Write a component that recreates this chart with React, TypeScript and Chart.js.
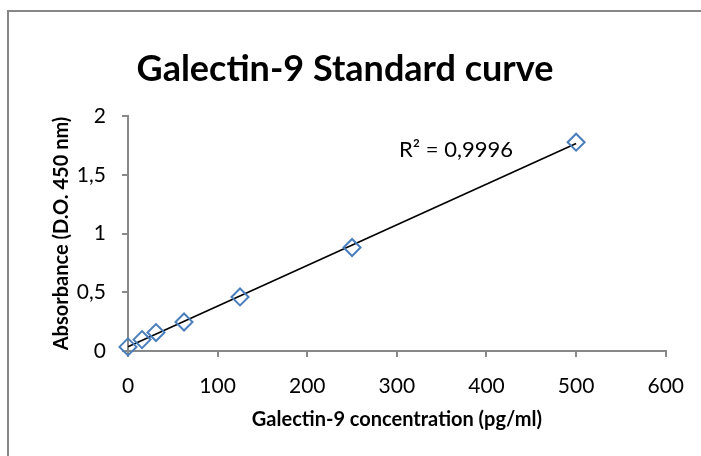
import React, { useEffect, useRef } from "react";
import { Chart, registerables } from "chart.js";

Chart.register(...registerables);

// ---- data ----
const concentrations = [0, 15.625, 31.25, 62.5, 125, 250, 500];
const absorbances = [0.035, 0.097, 0.157, 0.247, 0.46, 0.881, 1.777];
const titleText = "Galectin-9 Standard curve";
const xAxisTitle = "Galectin-9 concentration (pg/ml)";
const yAxisTitle = "Absorbance (D.O. 450 nm)";
const r2Label = "R\u00B2 = 0,9996";
const xTicks = [0, 100, 200, 300, 400, 500, 600];
const yTicks = [0, 0.5, 1, 1.5, 2];

// label anchor (in data units)
const R2_AT_X = 366;
const R2_AT_Y = 1.71;

const FONT = "Lato, 'Open Sans', sans-serif";
const GRAY = "#898989";

function linearFit(xs: number[], ys: number[]) {
  const n = xs.length;
  const mx = xs.reduce((a, b) => a + b, 0) / n;
  const my = ys.reduce((a, b) => a + b, 0) / n;
  let sxy = 0, sxx = 0;
  for (let i = 0; i < n; i++) {
    sxy += (xs[i] - mx) * (ys[i] - my);
    sxx += (xs[i] - mx) * (xs[i] - mx);
  }
  const slope = sxy / sxx;
  return { slope, intercept: my - slope * mx };
}

const decorPlugin = {
  id: "decor",
  beforeDraw(chart: any) {
    const ctx = chart.ctx;
    ctx.save();
    ctx.fillStyle = "#ffffff";
    ctx.fillRect(0, 0, chart.width, chart.height);
    ctx.strokeStyle = "#878787";
    ctx.lineWidth = 2;
    ctx.strokeRect(8, 11, chart.width + 50, chart.height + 50);
    ctx.restore();
  },
  afterDraw(chart: any) {
    const ctx = chart.ctx;
    const xs = chart.scales.x;
    const ys = chart.scales.y;
    ctx.save();
    ctx.fillStyle = "#000000";
    ctx.textAlign = "center";
    ctx.textBaseline = "alphabetic";
    ctx.font = `bold 36px ${FONT}`;
    ctx.fillText(titleText, 345, 81);
    ctx.font = `22px ${FONT}`;
    ctx.textBaseline = "middle";
    ctx.fillText(r2Label, xs.getPixelForValue(R2_AT_X), ys.getPixelForValue(R2_AT_Y));
    ctx.restore();
  },
};

export default function App() {
  const ref = useRef<HTMLCanvasElement>(null);
  useEffect(() => {
    if (!ref.current) return;
    const fit = linearFit(concentrations, absorbances);
    const xMin = Math.min(...concentrations);
    const xMax = Math.max(...concentrations);
    const chart = new Chart(ref.current, {
      type: "scatter",
      data: {
        datasets: [
          {
            label: "Standards",
            data: concentrations.map((x, i) => ({ x, y: absorbances[i] })),
            pointStyle: "rectRot",
            pointRadius: 8.5,
            pointBorderWidth: 2,
            pointBorderColor: "#4A7EBB",
            pointBackgroundColor: "rgba(0,0,0,0)",
            showLine: false,
            clip: false,
            order: 1,
          },
          {
            label: "Linear",
            data: [
              { x: xMin, y: fit.intercept + fit.slope * xMin },
              { x: xMax, y: fit.intercept + fit.slope * xMax },
            ],
            showLine: true,
            borderColor: "#000000",
            borderWidth: 1.6,
            pointRadius: 0,
            clip: false,
            order: 2,
          },
        ],
      },
      options: {
        responsive: false,
        animation: false,
        layout: { padding: { top: 116, right: 34, left: 0, bottom: 0 } },
        plugins: {
          legend: { display: false },
          tooltip: { enabled: false },
          title: { display: false },
        },
        scales: {
          x: {
            type: "linear",
            min: 0,
            max: 600,
            afterBuildTicks: (s: any) => {
              s.ticks = xTicks.map((v) => ({ value: v }));
            },
            afterFit: (s: any) => {
              s.height = 105;
            },
            ticks: {
              color: "#000",
              font: { family: FONT, size: 21 },
              padding: 17,
              maxRotation: 0,
            },
            grid: {
              drawOnChartArea: false,
              drawTicks: true,
              tickLength: 6,
              color: GRAY,
              lineWidth: 2,
            },
            border: { color: GRAY, width: 2 },
            title: {
              display: true,
              text: xAxisTitle,
              color: "#000",
              font: { family: FONT, size: 20, weight: "bold" },
              padding: { top: 0, bottom: 24 },
            },
          },
          y: {
            type: "linear",
            min: 0,
            max: 2,
            afterBuildTicks: (s: any) => {
              s.ticks = yTicks.map((v) => ({ value: v }));
            },
            afterFit: (s: any) => {
              s.width = 128;
            },
            ticks: {
              color: "#000",
              font: { family: FONT, size: 21 },
              padding: 16,
              callback: (v: any) => String(v).replace(".", ","),
            },
            grid: {
              drawOnChartArea: false,
              drawTicks: true,
              tickLength: 6,
              color: GRAY,
              lineWidth: 2,
            },
            border: { color: GRAY, width: 2 },
            title: {
              display: true,
              text: yAxisTitle,
              color: "#000",
              font: { family: FONT, size: 20, weight: "bold" },
              padding: { top: 50, bottom: 0 },
            },
          },
        },
      },
      plugins: [decorPlugin],
    });
    return () => chart.destroy();
  }, []);
  return (
    <div style={{ position: "absolute", left: 0, top: 0, width: 701, height: 456 }}>
      <canvas ref={ref} width={701} height={456} />
    </div>
  );
}
